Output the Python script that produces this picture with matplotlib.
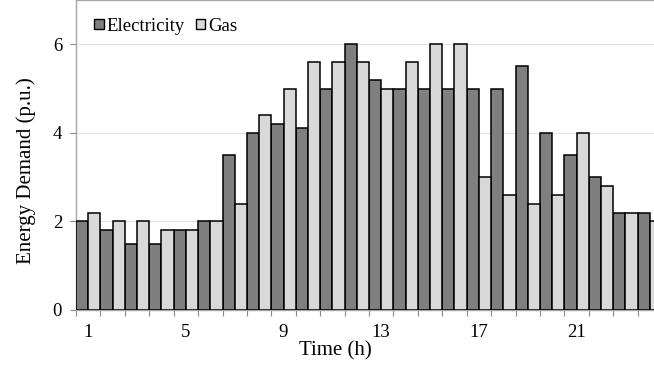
import numpy as np
import matplotlib
matplotlib.use("Agg")
import matplotlib.pyplot as plt
from matplotlib.patches import Patch

plt.rcParams["font.family"] = ["Liberation Serif", "DejaVu Serif"]

hours = np.arange(1, 25)
electricity = [2.0, 1.8, 1.5, 1.5, 1.8, 2.0, 3.5, 4.0, 4.2, 4.1, 5.0, 6.0,
               5.2, 5.0, 5.0, 5.0, 5.0, 5.0, 5.5, 4.0, 3.5, 3.0, 2.2, 2.2]
gas = [2.2, 2.0, 2.0, 1.8, 1.8, 2.0, 2.4, 4.4, 5.0, 5.6, 5.6, 5.6,
       5.0, 5.6, 6.0, 6.0, 3.0, 2.6, 2.4, 2.6, 4.0, 2.8, 2.2, 2.0]
label_hours = [1, 5, 9, 13, 17, 21]

fig = plt.figure(figsize=(6.54, 3.69), dpi=100)
# plot area runs slightly past the right edge of the figure
ax = fig.add_axes([76 / 654, 59 / 369, 586 / 654, 310 / 369])

w = 0.5
ax.bar(hours - w / 2, electricity, width=w, color="#7f7f7f",
       edgecolor="black", linewidth=1.1, zorder=3)
ax.bar(hours + w / 2, gas, width=w, color="#d9d9d9",
       edgecolor="black", linewidth=1.1, zorder=3)

ax.set_xlim(0.5, 24.5)
ax.set_ylim(0, 7)
ax.set_yticks([0, 2, 4, 6])
ax.yaxis.grid(True, color="#e4e4e4", linewidth=0.8, zorder=0)
ax.set_axisbelow(True)

# tick marks between categories, labels centred on every fourth hour
ax.set_xticks(np.arange(0.5, 25, 1))
ax.set_xticklabels([])
ax.set_xticks(label_hours, minor=True)
ax.set_xticklabels([str(h) for h in label_hours], minor=True)
ax.tick_params(axis="x", which="major", length=4, color="#888888")
ax.tick_params(axis="x", which="minor", length=0, pad=10, labelsize=13.5)
ax.tick_params(axis="y", length=4, color="#888888", pad=6, labelsize=13.5)

for s in ax.spines.values():
    s.set_color("#a6a6a6")
    s.set_linewidth(1.0)

ax.set_ylabel("Energy Demand (p.u.)", fontsize=15)
ax.yaxis.set_label_coords(-0.068, 0.45)
ax.set_xlabel("Time (h)", fontsize=15)
ax.xaxis.set_label_coords((335 - 76) / 586, -0.102)

handles = [Patch(facecolor="#7f7f7f", edgecolor="black", label="Electricity"),
           Patch(facecolor="#d9d9d9", edgecolor="black", label="Gas")]
ax.legend(handles=handles, loc="center left", ncol=2, frameon=False,
          fontsize=13.5, handlelength=0.5, handleheight=0.5,
          handletextpad=0.15, columnspacing=0.6,
          bbox_to_anchor=(0.009, 0.916), borderaxespad=0.3)

fig.savefig("out.png", dpi=100)
